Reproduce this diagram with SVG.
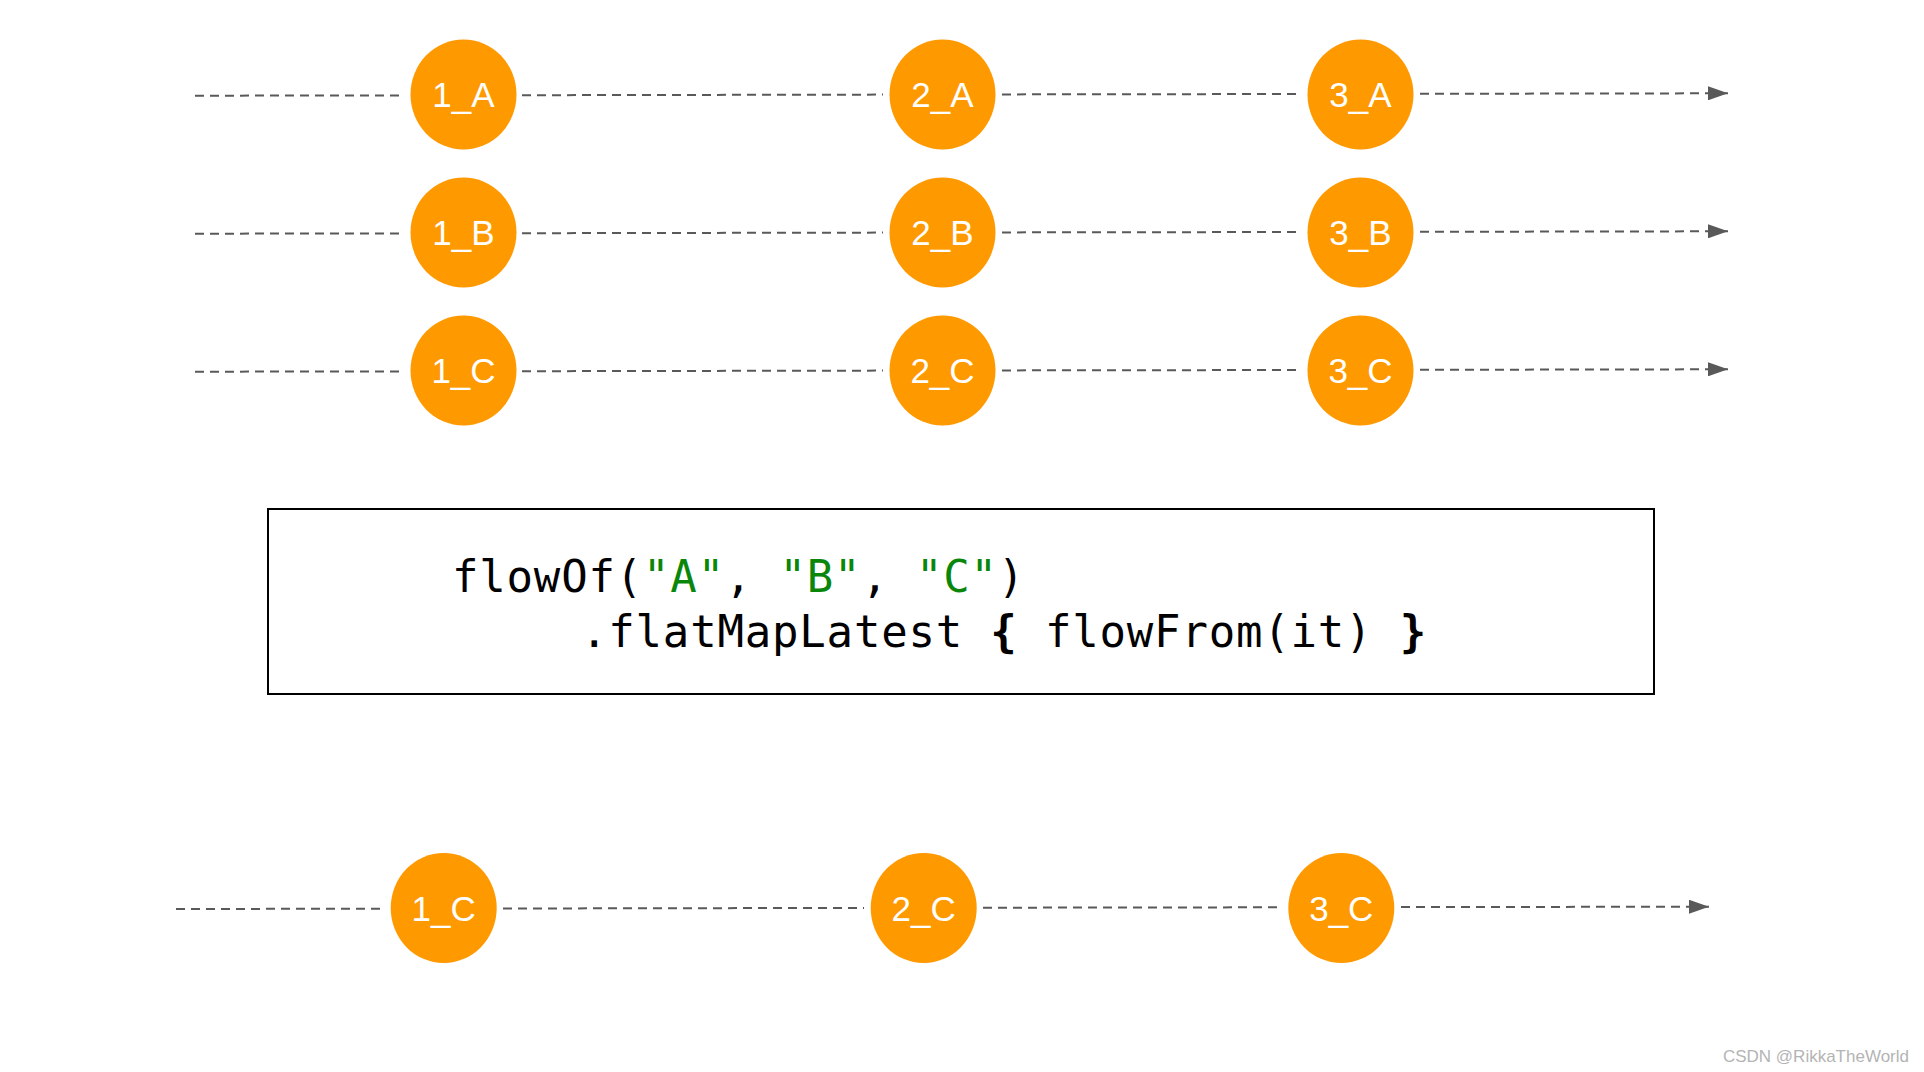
<svg xmlns="http://www.w3.org/2000/svg" width="1924" height="1072" viewBox="0 0 1924 1072">
<style>
.bg{fill:#ffffff}
.node ellipse{fill:#ff9900}
.node text{fill:#ffffff;font-family:"Liberation Sans",Arial,sans-serif;font-size:35px;text-anchor:middle}
.ln{stroke:#595959;stroke-width:2;stroke-dasharray:9,6;fill:none}
.code{font-family:"DejaVu Sans Mono",monospace;font-size:44px;letter-spacing:0.8px;fill:#000000}
.str{fill:#0a870a}
.br{font-weight:bold}
.wm{font-family:"Liberation Sans",Arial,sans-serif;font-size:17px;fill:#b4b4b4;text-anchor:end}
</style>
<defs>
<marker id="arrow" markerWidth="20" markerHeight="14" refX="20" refY="7" orient="auto" markerUnits="userSpaceOnUse">
<path d="M0,0 L20,7 L0,14 z" fill="#595959"/>
</marker>
</defs>
<rect class="bg" x="0" y="0" width="1924" height="1072"/>
<g id="connectors">
<line class="ln" x1="195" y1="95.7" x2="403" y2="95.4"/>
<line class="ln" x1="522" y1="95.2" x2="883" y2="94.6"/>
<line class="ln" x1="1002" y1="94.4" x2="1301" y2="94.0"/>
<line class="ln" x1="1420" y1="93.8" x2="1728" y2="93.3" marker-end="url(#arrow)"/>
<line class="ln" x1="195" y1="233.7" x2="403" y2="233.4"/>
<line class="ln" x1="522" y1="233.2" x2="883" y2="232.6"/>
<line class="ln" x1="1002" y1="232.4" x2="1301" y2="232.0"/>
<line class="ln" x1="1420" y1="231.8" x2="1728" y2="231.3" marker-end="url(#arrow)"/>
<line class="ln" x1="195" y1="371.7" x2="403" y2="371.4"/>
<line class="ln" x1="522" y1="371.2" x2="883" y2="370.6"/>
<line class="ln" x1="1002" y1="370.4" x2="1301" y2="370.0"/>
<line class="ln" x1="1420" y1="369.8" x2="1728" y2="369.3" marker-end="url(#arrow)"/>
<line class="ln" x1="176" y1="909" x2="384" y2="908.7"/>
<line class="ln" x1="503" y1="908.5" x2="864" y2="907.9"/>
<line class="ln" x1="983" y1="907.7" x2="1282" y2="907.3"/>
<line class="ln" x1="1401" y1="907.1" x2="1709" y2="906.7" marker-end="url(#arrow)"/>
</g>
<g id="n1A" class="node"><ellipse cx="463.5" cy="94.5" rx="53" ry="55"/><text x="463.5" y="107">1_A</text></g>
<g id="n2A" class="node"><ellipse cx="942.5" cy="94.5" rx="53" ry="55"/><text x="942.5" y="107">2_A</text></g>
<g id="n3A" class="node"><ellipse cx="1360.5" cy="94.5" rx="53" ry="55"/><text x="1360.5" y="107">3_A</text></g>
<g id="n1B" class="node"><ellipse cx="463.5" cy="232.5" rx="53" ry="55"/><text x="463.5" y="245">1_B</text></g>
<g id="n2B" class="node"><ellipse cx="942.5" cy="232.5" rx="53" ry="55"/><text x="942.5" y="245">2_B</text></g>
<g id="n3B" class="node"><ellipse cx="1360.5" cy="232.5" rx="53" ry="55"/><text x="1360.5" y="245">3_B</text></g>
<g id="n1C" class="node"><ellipse cx="463.5" cy="370.5" rx="53" ry="55"/><text x="463.5" y="383">1_C</text></g>
<g id="n2C" class="node"><ellipse cx="942.5" cy="370.5" rx="53" ry="55"/><text x="942.5" y="383">2_C</text></g>
<g id="n3C" class="node"><ellipse cx="1360.5" cy="370.5" rx="53" ry="55"/><text x="1360.5" y="383">3_C</text></g>
<g id="code">
<rect x="268" y="509" width="1386" height="185" fill="none" stroke="#000000" stroke-width="2"/>
<text class="code" x="452" y="592">flowOf(<tspan class="str">"A"</tspan>, <tspan class="str">"B"</tspan>, <tspan class="str">"C"</tspan>)</text>
<text class="code" x="581" y="647">.flatMapLatest <tspan class="br">{</tspan> flowFrom(it) <tspan class="br">}</tspan></text>
</g>
<g id="o1C" class="node"><ellipse cx="443.7" cy="908" rx="53" ry="55"/><text x="443.7" y="920.5">1_C</text></g>
<g id="o2C" class="node"><ellipse cx="923.7" cy="908" rx="53" ry="55"/><text x="923.7" y="920.5">2_C</text></g>
<g id="o3C" class="node"><ellipse cx="1341.3" cy="908" rx="53" ry="55"/><text x="1341.3" y="920.5">3_C</text></g>
<text class="wm" x="1909" y="1062">CSDN @RikkaTheWorld</text>
</svg>
